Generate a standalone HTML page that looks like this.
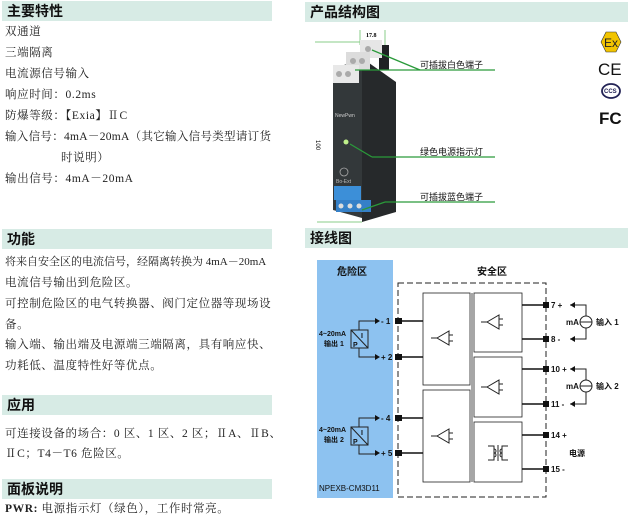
<!DOCTYPE html>
<html><head><meta charset="utf-8"><style>
*{margin:0;padding:0;box-sizing:border-box}
body{width:628px;height:519px;background:#fff;position:relative;overflow:hidden;font-family:"Liberation Serif","Noto Serif CJK SC",serif;color:#222}
.h{position:absolute;background:#d7ebe5;height:20px;font-family:"Liberation Sans","Noto Sans CJK SC",sans-serif;font-weight:bold;font-size:14px;line-height:20px;padding-left:5px;color:#111}
.t{position:absolute;left:5px;font-size:11.5px;line-height:14px;white-space:nowrap;letter-spacing:0.6px}
svg{position:absolute;left:0;top:0}
</style></head><body>
<div class="h" style="left:2px;top:1px;width:270px">主要特性</div>
<div class="t" style="top:25px">双通道</div>
<div class="t" style="top:46px">三端隔离</div>
<div class="t" style="top:67px">电流源信号输入</div>
<div class="t" style="top:88px">响应时间：0.2ms</div>
<div class="t" style="top:109px">防爆等级：【Exia】ⅡC</div>
<div class="t" style="top:130px;letter-spacing:0.3px">输入信号：4mA－20mA（其它输入信号类型请订货</div>
<div class="t" style="top:151px;left:61px">时说明）</div>
<div class="t" style="top:172px">输出信号：4mA－20mA</div>

<div class="h" style="left:2px;top:229px;width:270px">功能</div>
<div class="t" style="top:255px;letter-spacing:0;font-size:11px">将来自安全区的电流信号，经隔离转换为 4mA－20mA</div>
<div class="t" style="top:276px">电流信号输出到危险区。</div>
<div class="t" style="top:297px">可控制危险区的电气转换器、阀门定位器等现场设</div>
<div class="t" style="top:318px">备。</div>
<div class="t" style="top:338px">输入端、输出端及电源端三端隔离，具有响应快、</div>
<div class="t" style="top:359px">功耗低、温度特性好等优点。</div>

<div class="h" style="left:2px;top:395px;width:270px">应用</div>
<div class="t" style="top:427px">可连接设备的场合：0 区、1 区、2 区；ⅡA、ⅡB、</div>
<div class="t" style="top:447px">ⅡC；T4－T6 危险区。</div>

<div class="h" style="left:2px;top:479px;width:270px">面板说明</div>
<div class="t" style="top:502px"><b>PWR:</b> 电源指示灯（绿色），工作时常亮。</div>

<div class="h" style="left:305px;top:2px;width:323px">产品结构图</div>
<div class="h" style="left:305px;top:228px;width:323px">接线图</div>

<svg width="628" height="519" viewBox="0 0 628 519" font-family="Liberation Sans,Noto Sans CJK SC,sans-serif">
<line x1="315" y1="42" x2="362" y2="42" stroke="#8c8" stroke-width="1"/>
<line x1="317" y1="222" x2="362" y2="222" stroke="#8c8" stroke-width="1"/>
<line x1="360" y1="30" x2="360" y2="45" stroke="#8c8"/><line x1="385" y1="30" x2="385" y2="45" stroke="#8c8"/>
<text x="366" y="37" font-size="6" font-family="Liberation Serif" font-weight="bold">17.8</text>
<text x="316" y="140" font-size="6" transform="rotate(90 316 140)">100</text>
<polygon points="362,58 396,82 396,212 362,222" fill="#26292b"/>
<polygon points="333,68 362,60 362,218 333,210" fill="#33383a"/>
<rect x="379" y="45" width="10" height="25" fill="#1f2224"/>
<rect x="360" y="40" width="22" height="18" fill="#e6e6e6"/>
<rect x="346" y="52" width="24" height="18" fill="#dcdcdc"/>
<rect x="333" y="65" width="26" height="18" fill="#e8e8e8"/>
<circle cx="339" cy="74" r="3" fill="#aaa"/><circle cx="348" cy="74" r="3" fill="#aaa"/><circle cx="353" cy="61" r="3" fill="#aaa"/><circle cx="362" cy="61" r="3" fill="#aaa"/><circle cx="368" cy="49" r="3" fill="#aaa"/>
<text x="335" y="117" font-size="5" fill="#ccc">NewPwn</text>
<circle cx="346" cy="142" r="2.5" fill="#bff08a"/>
<circle cx="344" cy="172" r="4" fill="none" stroke="#aaa" stroke-width="0.8"/>
<text x="336" y="183" font-size="5" fill="#bbb">Bo-Ext</text>
<rect x="334" y="186" width="27" height="14" fill="#3c8fd8"/>
<rect x="336" y="200" width="35" height="12" fill="#3580c8"/>
<circle cx="341" cy="206" r="2.5" fill="#ddd"/><circle cx="350" cy="206" r="2.5" fill="#ddd"/><circle cx="359" cy="206" r="2.5" fill="#ddd"/>
<g stroke="#2a9a3a" stroke-width="1.3">
<line x1="372" y1="50" x2="420" y2="70"/><line x1="355" y1="70" x2="420" y2="70"/><line x1="420" y1="70" x2="495" y2="70"/>
<line x1="350" y1="144" x2="372" y2="157"/><line x1="372" y1="157" x2="495" y2="157"/>
<line x1="362" y1="210" x2="385" y2="202"/><line x1="385" y1="202" x2="495" y2="202"/>
</g>
<g font-size="9" fill="#111">
<text x="420" y="68">可插拔白色端子</text>
<text x="420" y="155">绿色电源指示灯</text>
<text x="420" y="200">可插拔蓝色端子</text>
</g>
<polygon points="601,42 606,32 616,32 621,42 616,52 606,52" fill="#f2c400" stroke="#333" stroke-width="0.6"/>
<text x="604" y="47" font-size="12" fill="#222">Ex</text>
<text x="598" y="75" font-size="17" fill="#111">CE</text>
<ellipse cx="611" cy="91" rx="9" ry="7" fill="none" stroke="#225" stroke-width="1.8"/>
<text x="604" y="93" font-size="6" font-weight="bold" fill="#225">CCS</text>
<text x="599" y="124" font-size="17" font-weight="bold" fill="#111">FC</text>

<rect x="317" y="260" width="76" height="238" fill="#8dc2f0"/>
<text x="337" y="275" font-size="10" font-weight="bold" fill="#111">危险区</text>
<text x="477" y="275" font-size="10" font-weight="bold" fill="#111">安全区</text>
<text x="319" y="491" font-size="8" fill="#111">NPEXB-CM3D11</text>
<rect x="398" y="283" width="148" height="214" fill="none" stroke="#222" stroke-dasharray="6,3"/>
<g fill="#fff" stroke="#222" stroke-width="0.8">
<rect x="423" y="293" width="47" height="92"/><rect x="423" y="390" width="47" height="92"/>
<rect x="474" y="293" width="48" height="59"/><rect x="474" y="357" width="48" height="60"/><rect x="474" y="422" width="48" height="60"/>
</g>
<line x1="472" y1="293" x2="472" y2="482" stroke="#888" stroke-width="1.5"/>
<g stroke="#222" stroke-width="1" fill="none">
<path d="M437,338 l12,-7 v14 z M431,338 h6 M449,335 h4 M449,341 h4"/>
<path d="M437,436 l12,-7 v14 z M431,436 h6 M449,433 h4 M449,439 h4"/>
<path d="M487,322 l12,-7 v14 z M481,322 h6 M499,319 h4 M499,325 h4"/>
<path d="M487,387 l12,-7 v14 z M481,387 h6 M499,384 h4 M499,390 h4"/>
<path d="M488,446 h6 v14 h-6 M508,446 h-6 v14 h6 M494,449 a2,2 0 0 1 0,4 a2,2 0 0 1 0,4 M502,449 a2,2 0 0 0 0,4 a2,2 0 0 0 0,4 M498,445 v16"/>
</g>
<g stroke="#111" stroke-width="1.5">
<line x1="402" y1="321" x2="423" y2="321"/><line x1="402" y1="357" x2="423" y2="357"/>
<line x1="402" y1="418" x2="423" y2="418"/><line x1="402" y1="453" x2="423" y2="453"/>
<line x1="522" y1="305" x2="546" y2="305"/><line x1="522" y1="339" x2="546" y2="339"/>
<line x1="522" y1="369" x2="546" y2="369"/><line x1="522" y1="404" x2="546" y2="404"/>
<line x1="522" y1="435" x2="546" y2="435"/><line x1="522" y1="469" x2="546" y2="469"/>
</g>
<g fill="#111">
<rect x="395" y="318" width="7" height="6"/><rect x="395" y="354" width="7" height="6"/>
<rect x="395" y="415" width="7" height="6"/><rect x="395" y="450" width="7" height="6"/>
<rect x="543" y="302" width="6" height="6"/><rect x="543" y="336" width="6" height="6"/>
<rect x="543" y="366" width="6" height="6"/><rect x="543" y="401" width="6" height="6"/>
<rect x="543" y="432" width="6" height="6"/><rect x="543" y="466" width="6" height="6"/>
</g>
<g font-size="8" font-weight="bold" fill="#111">
<text x="381" y="324">- 1</text><text x="381" y="360">+ 2</text>
<text x="381" y="421">- 4</text><text x="381" y="456">+ 5</text>
<text x="551" y="308">7  +</text><text x="551" y="342">8  -</text>
<text x="551" y="372">10 +</text><text x="551" y="407">11 -</text>
<text x="551" y="438">14  +</text><text x="551" y="472">15  -</text>
<text x="569" y="456">电源</text>
<text x="566" y="325">mA</text><text x="596" y="325">输入 1</text>
<text x="566" y="389">mA</text><text x="596" y="389">输入 2</text>
<text x="319" y="336" font-size="7">4~20mA</text><text x="324" y="346" font-size="7">输出 1</text>
<text x="319" y="432" font-size="7">4~20mA</text><text x="324" y="442" font-size="7">输出 2</text>
</g>
<g stroke="#222" stroke-width="1" fill="none">
<path d="M570,305 h16 v34 h-16"/><path d="M570,369 h16 v35 h-16"/>
<circle cx="586" cy="322" r="6" fill="#fff"/><line x1="580" y1="322" x2="592" y2="322"/>
<circle cx="586" cy="386" r="6" fill="#fff"/><line x1="580" y1="386" x2="592" y2="386"/>
<path d="M359,330 v-9 h16 M359,348 v9 h16"/><path d="M359,427 v-9 h16 M359,445 v9 h16"/>
<rect x="351" y="330" width="17" height="18" fill="#8dc2f0"/><line x1="351" y1="330" x2="368" y2="348"/>
<rect x="351" y="427" width="17" height="18" fill="#8dc2f0"/><line x1="351" y1="427" x2="368" y2="445"/>
</g>
<g fill="#111" font-size="7" font-weight="bold">
<path d="M375,318 l5,3 l-5,3z M375,354 l5,3 l-5,3z M375,415 l5,3 l-5,3z M375,450 l5,3 l-5,3z"/>
<path d="M575,302 l-5,3 l5,3z M575,336 l-5,3 l5,3z M575,366 l-5,3 l5,3z M575,401 l-5,3 l5,3z"/>
<text x="361" y="338">I</text><text x="353" y="347">P</text>
<text x="361" y="435">I</text><text x="353" y="444">P</text>
</g>
</svg>
</body></html>
